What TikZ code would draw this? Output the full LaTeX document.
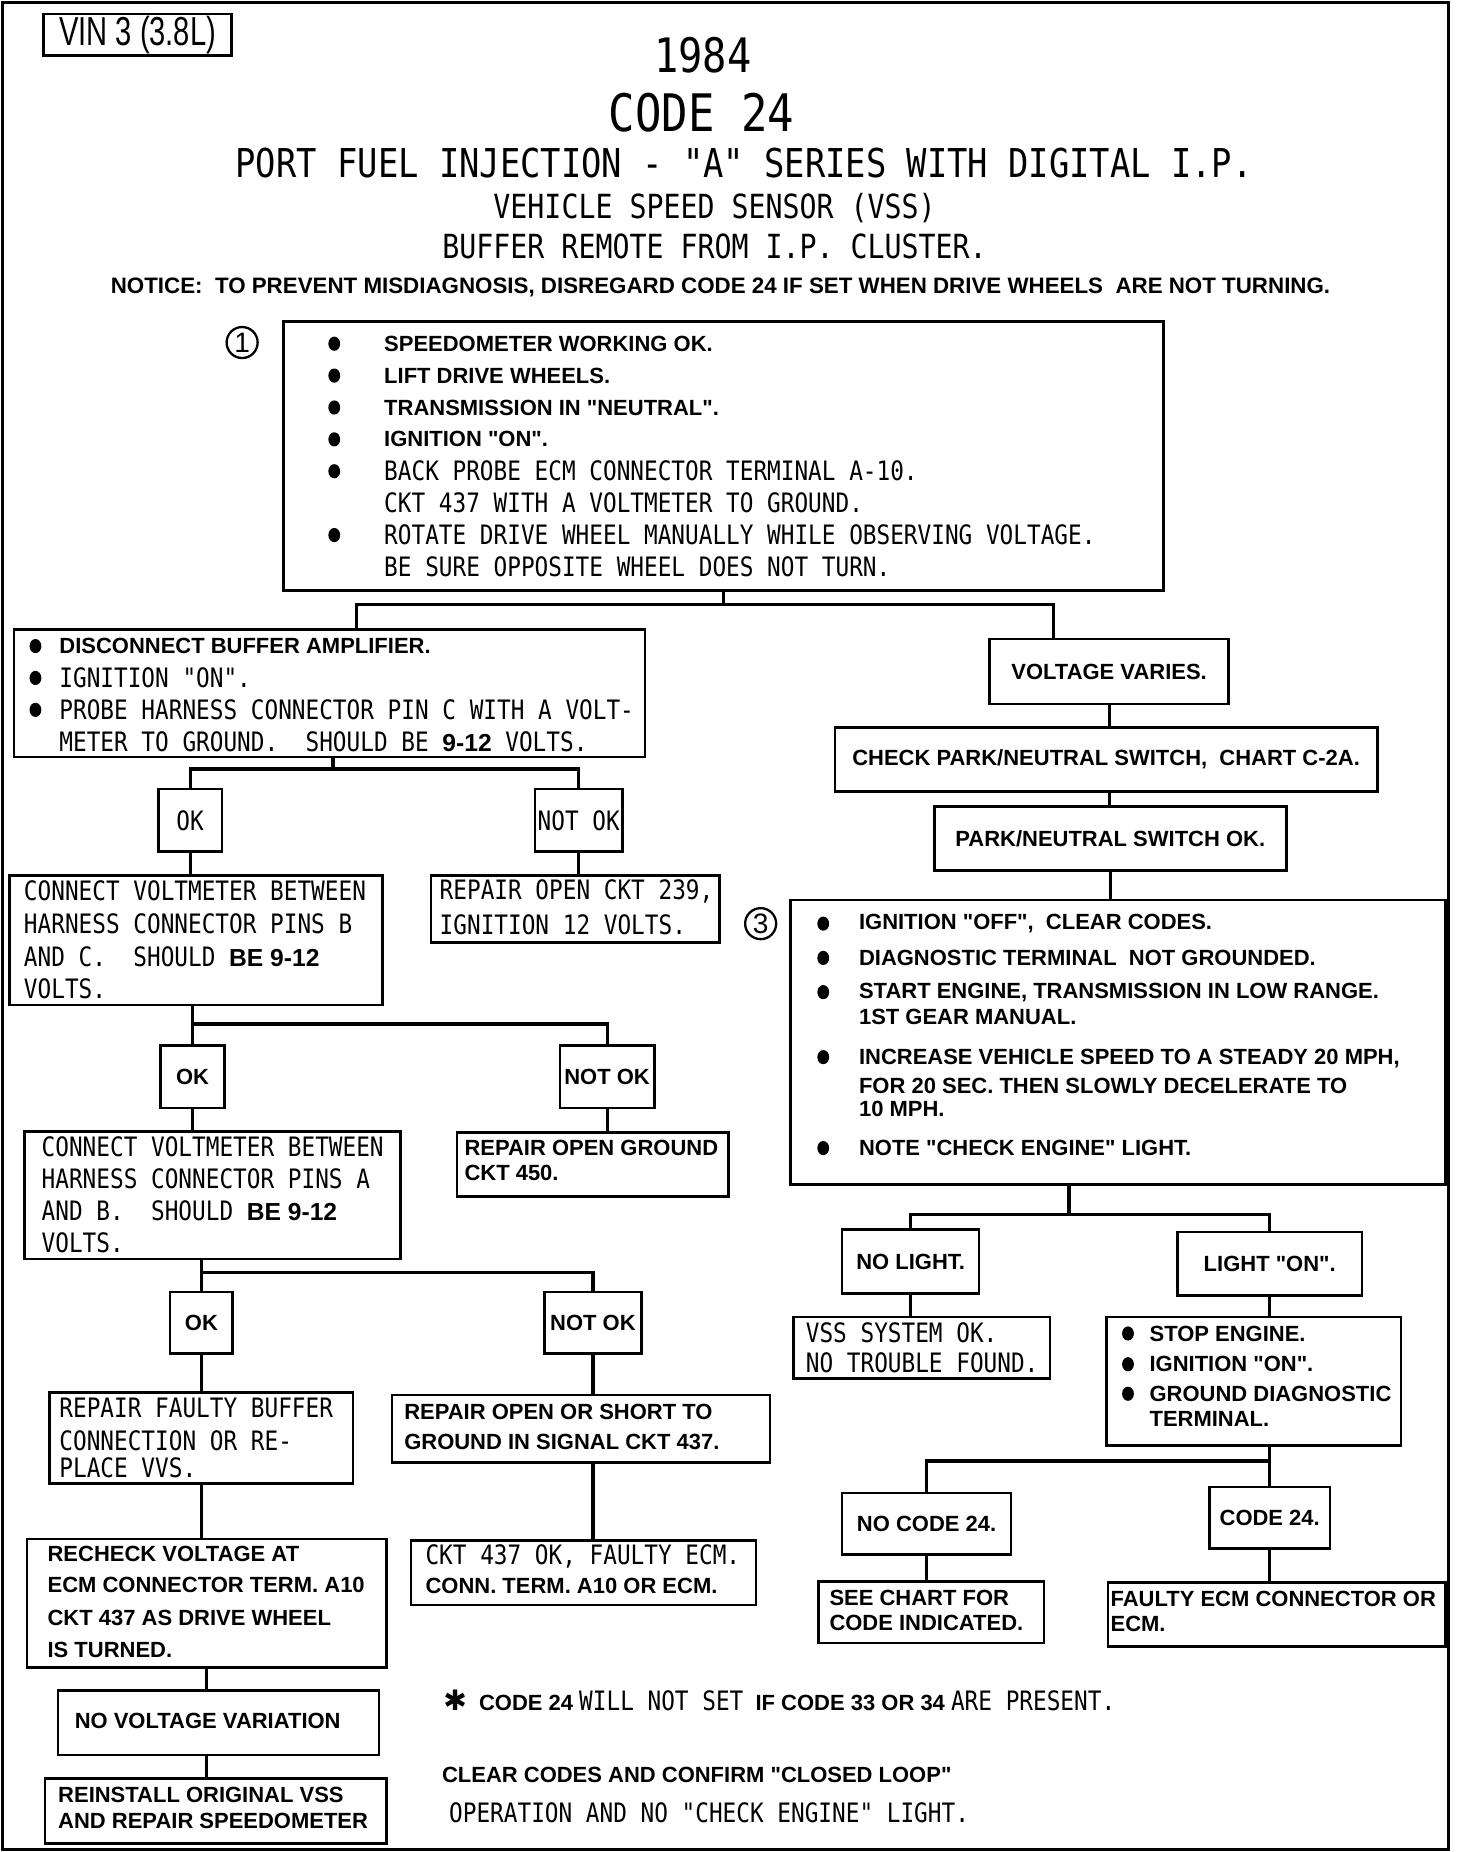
\documentclass[tikz,border=0pt]{standalone}
\usepackage{fontspec}
\setmainfont{Liberation Sans}[Ligatures=TeXOff]
\newfontfamily\pltfam[FakeStretch=0.85,Ligatures=TeXOff]{DejaVu Sans Mono}
\newfontfamily\vinfam[FakeStretch=0.72]{Liberation Sans}
\newfontfamily\symfam{DejaVu Sans}
\newcommand\plt{\pltfam\mdseries\fontsize{15.2}{18}\selectfont}
\newcommand\hel{\rmfamily\bfseries\fontsize{12.5}{15}\selectfont}
\newcommand\helb{\rmfamily\bfseries\fontsize{14}{16}\selectfont}
\usetikzlibrary{fit}

\tikzset{
  box/.style={draw, line width=1.5pt, inner sep=0pt},
  lbl/.style={anchor=west, inner sep=0pt, font=\hel},
  tag/.style={inner sep=0pt, font=\hel},
  wire/.style={line width=1.8pt},
  num/.style={circle, draw, line width=1.3pt, inner sep=0pt, minimum size=0.62cm, font=\rmfamily\fontsize{16}{18}\selectfont},
}

\begin{document}
\begin{tikzpicture}[x=0.0236cm, y=-0.0236cm]
\useasboundingbox (0,0) rectangle (1246,1568);
\draw[line width=1.7pt] (2,2) rectangle (1226,1566);

% heading
\node[box, fit={(37,12) (196,47)}] (vin) {};
\node[inner sep=0pt, font=\vinfam\fontsize{23}{25}\selectfont] (vintxt) at (vin.center) {VIN 3 (3.8L)};
\node[font=\pltfam\fontsize{27}{30}\selectfont] (yr) at (595,47) {1984};
\node[font=\pltfam\fontsize{29.4}{32}\selectfont] (code) at (594,95) {CODE 24};
\node[font=\pltfam\fontsize{22.6}{26}\selectfont] (sys) at (630,138) {PORT FUEL INJECTION - "A" SERIES WITH DIGITAL I.P.};
\node[font=\pltfam\fontsize{18.9}{22}\selectfont] (sens) at (605,176) {VEHICLE SPEED SENSOR (VSS)};
\node[font=\pltfam\fontsize{18.9}{22}\selectfont] (buf) at (605,209) {BUFFER REMOTE FROM I.P. CLUSTER.};
\node[font=\rmfamily\bfseries\fontsize{12.7}{15}\selectfont] (note) at (610,243) {NOTICE:\ \ TO PREVENT MISDIAGNOSIS, DISREGARD CODE 24 IF SET WHEN DRIVE WHEELS\ \ ARE NOT TURNING.};

% step 1
\node[num] (n1) at (205,290) {1};
\node[box, fit={(240,272) (985,500)}] (chk1) {};
\foreach \y/\t [count=\i] in {291/{SPEEDOMETER WORKING OK.}, 318/{LIFT DRIVE WHEELS.},
  345/{TRANSMISSION IN "NEUTRAL".}, 372/{IGNITION "ON".},
  399/{\plt BACK PROBE ECM CONNECTOR TERMINAL A-10.}, 426/{\plt CKT 437 WITH A VOLTMETER TO GROUND.},
  453/{\plt ROTATE DRIVE WHEEL MANUALLY WHILE OBSERVING VOLTAGE.}, 480/{\plt BE SURE OPPOSITE WHEEL DOES NOT TURN.}}
  \node[lbl] (chk1-\i) at (325,\y) {\t};
\foreach \y in {291,318,345,372,399,453} \fill (283,\y) ellipse (5 and 6);

% left branch
\node[box, fit={(12,533) (546,641)}] (dis) {};
\foreach \y/\t [count=\i] in {547/{DISCONNECT BUFFER AMPLIFIER.}, 574/{\plt IGNITION "ON".},
  601/{\plt PROBE HARNESS CONNECTOR PIN C WITH A VOLT-}, 628/{\plt METER TO GROUND.\ \ SHOULD BE {\helb 9-12} VOLTS.}}
  \node[lbl] (dis-\i) at (50,\y) {\t};
\foreach \y in {547,574,601} \fill (30,\y) ellipse (5 and 6);

\node[box, fit={(134,668) (188,721)}] (ok1) {};
\node[tag, font=\plt] (ok1-t) at (ok1.center) {OK};
\node[box, fit={(453,668) (527,721)}] (nok1) {};
\node[tag, font=\plt] (nok1-t) at (nok1.center) {NOT OK};
\node[box, fit={(8,741) (324,851)}] (bc) {};
\foreach \y/\t [count=\i] in {754/{CONNECT VOLTMETER BETWEEN}, 782/{HARNESS CONNECTOR PINS B},
  810/{AND C.\ \ SHOULD {\helb BE 9-12}}, 837/{VOLTS.}}
  \node[lbl, font=\plt] (bc-\i) at (20,\y) {\t};
\node[box, fit={(365,741) (609,798)}] (rep1) {};
\foreach \y/\t [count=\i] in {755/{REPAIR OPEN CKT 239,}, 783/{IGNITION 12 VOLTS.}}
  \node[lbl, font=\plt] (rep1-\i) at (372,\y) {\t};

\node[box, fit={(136,885) (190,938)}] (ok2) {};
\node[tag] (ok2-t) at (ok2.center) {OK};
\node[box, fit={(474,885) (554,938)}] (nok2) {};
\node[tag] (nok2-t) at (nok2.center) {NOT OK};
\node[box, fit={(21,958) (339,1066)}] (ab) {};
\foreach \y/\t [count=\i] in {971/{CONNECT VOLTMETER BETWEEN}, 998/{HARNESS CONNECTOR PINS A},
  1025/{AND B.\ \ SHOULD {\helb BE 9-12}}, 1052/{VOLTS.}}
  \node[lbl, font=\plt] (ab-\i) at (35,\y) {\t};
\node[box, fit={(387,959) (617,1013)}] (rep2) {};
\foreach \y/\t [count=\i] in {972/{REPAIR OPEN GROUND}, 993/{CKT 450.}}
  \node[lbl] (rep2-\i) at (393,\y) {\t};

\node[box, fit={(144,1094) (197,1146)}] (ok3) {};
\node[tag] (ok3-t) at (ok3.center) {OK};
\node[box, fit={(461,1094) (543,1146)}] (nok3) {};
\node[tag] (nok3-t) at (nok3.center) {NOT OK};
\node[box, fit={(42,1179) (299,1256)}] (rfb) {};
\foreach \y/\t [count=\i] in {1192/{REPAIR FAULTY BUFFER}, 1220/{CONNECTION OR RE-}, 1243/{PLACE VVS.}}
  \node[lbl, font=\plt] (rfb-\i) at (50,\y) {\t};
\node[box, fit={(332,1181) (652,1238)}] (ros) {};
\foreach \y/\t [count=\i] in {1195/{REPAIR OPEN OR SHORT TO}, 1221/{GROUND IN SIGNAL CKT 437.}}
  \node[lbl] (ros-\i) at (342,\y) {\t};

\node[box, fit={(23,1303) (327,1412)}] (rck) {};
\foreach \y/\t [count=\i] in {1316/{RECHECK VOLTAGE AT}, 1342/{ECM CONNECTOR TERM. A10},
  1370/{CKT 437 AS DRIVE WHEEL}, 1397/{IS TURNED.}}
  \node[lbl] (rck-\i) at (40,\y) {\t};
\node[box, fit={(348,1304) (640,1359)}] (ckt) {};
\foreach \y/\t [count=\i] in {1318/{\plt CKT 437 OK, FAULTY ECM.}, 1343/{CONN. TERM. A10 OR ECM.}}
  \node[lbl] (ckt-\i) at (360,\y) {\t};
\node[box, fit={(49,1431) (321,1486)}] (nvv) {};
\node[lbl] (nvv-t) at (63,1457) {NO VOLTAGE VARIATION};
\node[box, fit={(38,1506) (327,1561)}] (rei) {};
\foreach \y/\t [count=\i] in {1520/{REINSTALL ORIGINAL VSS}, 1542/{AND REPAIR SPEEDOMETER}}
  \node[lbl] (rei-\i) at (49,\y) {\t};

% notes at foot
\node[lbl] (fn1) at (375,1440) {{\symfam\fontsize{16}{18}\selectfont ✱}\ \ CODE 24 {\plt WILL NOT SET}\ \ IF CODE 33 OR 34 {\plt ARE PRESENT.}};
\node[lbl] (fn2) at (374,1503) {CLEAR CODES AND CONFIRM "CLOSED LOOP"};
\node[lbl, font=\plt] (fn3) at (380,1535) {OPERATION AND NO "CHECK ENGINE" LIGHT.};

% right branch
\node[box, fit={(838,541) (1040,596)}] (vv) {};
\node[tag] (vv-t) at (vv.center) {VOLTAGE VARIES.};
\node[box, fit={(707,616) (1166,670)}] (cpn) {};
\node[tag] (cpn-t) at (cpn.center) {CHECK PARK/NEUTRAL SWITCH,\ \ CHART C-2A.};
\node[box, fit={(791,683) (1089,737)}] (pok) {};
\node[tag] (pok-t) at (pok.center) {PARK/NEUTRAL SWITCH OK.};
\node[num] (n3) at (644,782) {3};
\node[box, fit={(669,762) (1224,1003)}] (b3) {};
\foreach \y/\t [count=\i] in {782/{IGNITION "OFF",\ \ CLEAR CODES.}, 811/{DIAGNOSTIC TERMINAL\ \ NOT GROUNDED.},
  840/{START ENGINE, TRANSMISSION IN LOW RANGE.}, 861/{1ST GEAR MANUAL.},
  896/{INCREASE VEHICLE SPEED TO A STEADY 20 MPH,}, 919/{FOR 20 SEC. THEN SLOWLY DECELERATE TO},
  939/{10 MPH.}, 972/{NOTE "CHECK ENGINE" LIGHT.}}
  \node[lbl] (b3-\i) at (727,\y) {\t};
\foreach \y in {782,811,840,895,972} \fill (697,\y) ellipse (5 and 6);

\node[box, fit={(713,1041) (829,1095)}] (nl) {};
\node[tag] (nl-t) at (nl.center) {NO LIGHT.};
\node[box, fit={(997,1043) (1153,1097)}] (lon) {};
\node[tag] (lon-t) at (lon.center) {LIGHT "ON".};
\node[box, fit={(672,1115) (889,1167)}] (vss) {};
\foreach \y/\t [count=\i] in {1128/{VSS SYSTEM OK.}, 1154/{NO TROUBLE FOUND.}}
  \node[lbl, font=\plt] (vss-\i) at (682,\y) {\t};
\node[box, fit={(937,1115) (1186,1224)}] (stp) {};
\foreach \y/\t [count=\i] in {1129/{STOP ENGINE.}, 1155/{IGNITION "ON".}, 1180/{GROUND DIAGNOSTIC}, 1201/{TERMINAL.}}
  \node[lbl] (stp-\i) at (973,\y) {\t};
\foreach \y in {1129,1155,1180} \fill (955,\y) ellipse (5 and 6);

\node[box, fit={(713,1264) (856,1316)}] (nc) {};
\node[tag] (nc-t) at (nc.center) {NO CODE 24.};
\node[box, fit={(1024,1259) (1126,1311)}] (c24) {};
\node[tag] (c24-t) at (c24.center) {CODE 24.};
\node[box, fit={(693,1339) (884,1391)}] (scf) {};
\foreach \y/\t [count=\i] in {1353/{SEE CHART FOR}, 1374/{CODE INDICATED.}}
  \node[lbl] (scf-\i) at (702,\y) {\t};
\node[box, fit={(938,1340) (1224,1394)}] (fec) {};
\foreach \y/\t [count=\i] in {1354/{FAULTY ECM CONNECTOR OR}, 1375/{ECM.}}
  \node[lbl] (fec-\i) at (940,\y) {\t};

% connectors
\coordinate (j1l) at (302,512);
\coordinate (j1r) at (892,512);
\draw[wire] (chk1.south) -- (chk1.south |- j1l);
\draw[wire] (dis.north -| j1l) -- (j1l) -- (j1r) -- (vv.north -| j1r);

\coordinate (j2) at (282,651);
\draw[wire] (dis.south -| j2) -- (j2);
\draw[wire] (ok1.north) |- (j2) -| (nok1.north);
\draw[wire] (ok1.south) -- (bc.north -| ok1.south);
\draw[wire] (nok1.south) -- (rep1.north -| nok1.south);

\coordinate (j3) at (163,867);
\draw[wire] (bc.south -| j3) -- (j3) -| (nok2.north);
\draw[wire] (j3) -- (ok2.north);
\draw[wire] (ok2.south) -- (ab.north -| ok2.south);
\draw[wire] (nok2.south) -- (rep2.north -| nok2.south);

\coordinate (j4) at (170.5,1077);
\draw[wire] (ab.south -| j4) -- (j4) -| (nok3.north);
\draw[wire] (j4) -- (ok3.north);
\draw[wire] (ok3.south) -- (rfb.north -| ok3.south);
\draw[wire] (nok3.south) -- (ros.north -| nok3.south);
\draw[wire] (rfb.south -| ok3.south) -- (rck.north -| ok3.south);
\draw[wire] (ros.south -| nok3.south) -- (ckt.north -| nok3.south);
\draw[wire] (rck.south) -- (nvv.north -| rck.south);
\draw[wire] (nvv.south -| rck.south) -- (rei.north -| rck.south);

\draw[wire] (vv.south) -- (cpn.north -| vv.south);
\draw[wire] (cpn.south -| vv.south) -- (pok.north -| vv.south);
\draw[wire] (pok.south) -- (b3.north -| pok.south);

\coordinate (j5) at (905,1028);
\draw[wire] (b3.south -| j5) -- (j5);
\draw[wire] (nl.north) |- (j5) -| (lon.north);
\draw[wire] (nl.south) -- (vss.north -| nl.south);
\draw[wire] (lon.south) -- (stp.north -| lon.south);

\coordinate (j6) at (1075,1237);
\draw[wire] (stp.south -| j6) -- (c24.north -| j6);
\draw[wire] (nc.north) |- (j6);
\draw[wire] (nc.south) -- (scf.north -| nc.south);
\draw[wire] (c24.south) -- (fec.north -| c24.south);
\end{tikzpicture}
\end{document}
